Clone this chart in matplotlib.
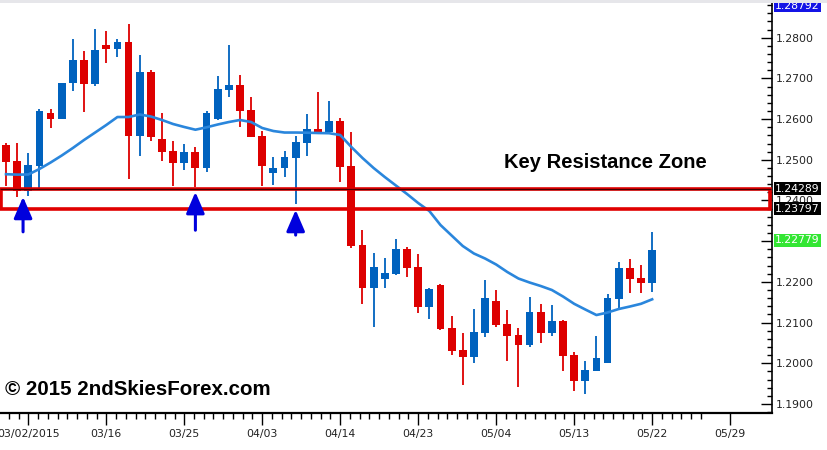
import matplotlib
matplotlib.use("Agg")
import matplotlib.pyplot as plt
from matplotlib.patches import Rectangle
from matplotlib.ticker import MultipleLocator, FixedLocator, FormatStrFormatter
import numpy as np

# daily candles
opens = [1.25363, 1.24970, 1.24241, 1.24855, 1.26142, 1.25995, 1.26879, 1.27452, 1.26855, 1.27820,
         1.27715, 1.27894, 1.25592, 1.27164, 1.25511, 1.25216, 1.24929, 1.25191, 1.24806, 1.26002,
         1.26715, 1.26838, 1.26223, 1.25585, 1.24683, 1.24791, 1.25051, 1.25420, 1.25757, 1.25690,
         1.25960, 1.24847, 1.22906, 1.21842, 1.22078, 1.22194, 1.22808, 1.22358, 1.21390, 1.21924,
         1.20860, 1.20327, 1.20162, 1.20752, 1.21530, 1.20965, 1.20695, 1.20449, 1.21268, 1.20752,
         1.21039, 1.20204, 1.19572, 1.19818, 1.20015, 1.21580, 1.22334, 1.22088, 1.21980]
highs = [1.25405, 1.25420, 1.25159, 1.26241, 1.26248, 1.26894, 1.27968, 1.27673, 1.28214, 1.28164,
         1.27968, 1.28336, 1.27575, 1.27206, 1.26142, 1.25462, 1.25388, 1.25322, 1.26206, 1.27059,
         1.27820, 1.27083, 1.26535, 1.25715, 1.25076, 1.25216, 1.25585, 1.26125, 1.26673, 1.26444,
         1.26019, 1.25690, 1.23275, 1.22702, 1.22594, 1.23054, 1.22865, 1.22685, 1.21857, 1.21941,
         1.21162, 1.20752, 1.21334, 1.22046, 1.21801, 1.21309, 1.20860, 1.21621, 1.21457, 1.21432,
         1.21064, 1.20277, 1.20056, 1.20671, 1.21702, 1.22481, 1.22555, 1.22415, 1.23218]
lows = [1.24356, 1.24093, 1.24110, 1.24275, 1.25774, 1.25995, 1.26690, 1.26182, 1.26813, 1.27371,
        1.27518, 1.24521, 1.25101, 1.25469, 1.24978, 1.24363, 1.24749, 1.24331, 1.24707, 1.25978,
        1.26550, 1.25798, 1.25560, 1.24363, 1.24381, 1.24570, 1.23914, 1.25101, 1.25690, 1.25690,
        1.24462, 1.22840, 1.21457, 1.20899, 1.21842, 1.22169, 1.22128, 1.21243, 1.21081, 1.20818,
        1.20204, 1.19467, 1.20000, 1.20653, 1.20899, 1.20064, 1.19425, 1.20393, 1.20491, 1.20671,
        1.19818, 1.19331, 1.19238, 1.19818, 1.20015, 1.21327, 1.21720, 1.21734, 1.21759]
closes = [1.24953, 1.24241, 1.24872, 1.26206, 1.25995, 1.26894, 1.27452, 1.26855, 1.27698, 1.27715,
          1.27894, 1.25592, 1.27164, 1.25553, 1.25199, 1.24929, 1.25191, 1.24806, 1.26142, 1.26739,
          1.26838, 1.26206, 1.25567, 1.24855, 1.24806, 1.25076, 1.25430, 1.25757, 1.25690, 1.25960,
          1.24830, 1.22889, 1.21842, 1.22358, 1.22211, 1.22808, 1.22349, 1.21390, 1.21825, 1.20843,
          1.20309, 1.20162, 1.20769, 1.21597, 1.20941, 1.20678, 1.20457, 1.21268, 1.20752, 1.21046,
          1.20179, 1.19572, 1.19835, 1.20137, 1.21597, 1.22334, 1.22071, 1.21980, 1.22779]
ma = [1.24646, 1.24636, 1.24639, 1.24774, 1.24933, 1.25105, 1.25290, 1.25486, 1.25670, 1.25855,
      1.26051, 1.26051, 1.26113, 1.26064, 1.25978, 1.25879, 1.25806, 1.25739, 1.25798, 1.25867,
      1.25928, 1.25978, 1.25928, 1.25781, 1.25707, 1.25670, 1.25670, 1.25666, 1.25658, 1.25653,
      1.25609, 1.25314, 1.25044, 1.24798, 1.24577, 1.24368, 1.24159, 1.23938, 1.23742, 1.23398,
      1.23140, 1.22882, 1.22698, 1.22575, 1.22427, 1.22243, 1.22083, 1.21985, 1.21899, 1.21801,
      1.21641, 1.21462, 1.21322, 1.21186, 1.21248, 1.21334, 1.21395, 1.21462, 1.21572]

date_ticks = [2, 9, 16, 23, 30, 37, 44, 51, 58, 65]
date_labels = ["03/02/2015", "03/16", "03/25", "04/03", "04/14",
               "04/23", "05/04", "05/13", "05/22", "05/29"]

zone_top, zone_bottom = 1.24289, 1.23797
# bar index, arrow tip, arrow tail
arrow_bars = [1.53, 17.0, 26.0]
arrow_tips = [1.2409, 1.2421, 1.2377]
arrow_tails = [1.2323, 1.2327, 1.2315]

# price boxes on the right scale (text, where it sits, colour)
box_texts = ["1.28792", "1.24289", "1.23797", "1.22779"]
box_levels = [1.28779, 1.24289, 1.23797, 1.23020]
box_colors = ["#1414E6", "#000000", "#000000", "#33E633"]

RED = "#DD0000"
BLUE = "#0062BE"
MA_COL = "#2A86DC"

fig = plt.figure(figsize=(8.28, 4.5), dpi=100)
fig.patch.set_facecolor("white")
ax = fig.add_axes([0, 37 / 450, 772 / 828, 411 / 450])
ax.set_xlim(-0.54, 68.76)
ax.set_ylim(1.18779, 1.28877)

# thin grey strip along the top edge
fig.patches.append(Rectangle((0, 1 - 3 / 450), 1, 3 / 450, transform=fig.transFigure,
                             facecolor="#E6E6EA", edgecolor="none"))

o, h, l, c = map(np.array, (opens, highs, lows, closes))
idx = np.arange(len(o))
cols = np.where(c >= o, BLUE, RED)
ax.vlines(idx, l, h, colors=cols, lw=1.3, zorder=2)
ax.bar(idx, np.abs(c - o), bottom=np.minimum(o, c), width=0.7, color=cols,
       linewidth=0, zorder=3)
ax.plot(idx, ma, color=MA_COL, lw=1.9, zorder=4, solid_joinstyle="round")

# resistance zone
ax.add_patch(Rectangle((-0.45, zone_bottom), 69.0, zone_top - zone_bottom,
                       fill=False, edgecolor="#E00000", lw=2.6, zorder=5))
ax.hlines(zone_top, -0.54, 68.7, color="#450000", lw=0.9, zorder=6)

for xb, tip, tail in zip(arrow_bars, arrow_tips, arrow_tails):
    ax.annotate("", xy=(xb, tip), xytext=(xb, tail),
                arrowprops=dict(arrowstyle="-|>,head_length=0.65,head_width=0.28",
                                mutation_scale=20, color="#0000DD", lw=2.2,
                                shrinkA=0, shrinkB=0), zorder=7)

ax.text(0.7837, 0.6107, "Key Resistance Zone", transform=ax.transAxes,
        ha="center", va="center", fontsize=14.5, fontweight="bold",
        family="Liberation Sans", color="black")
ax.text(0.0065, 0.056, "© 2015 2ndSkiesForex.com", transform=ax.transAxes,
        ha="left", va="center", fontsize=14.8, fontweight="bold",
        family="Liberation Sans", color="black")

# axes look
for s in ("top", "left"):
    ax.spines[s].set_visible(False)
ax.spines["bottom"].set_linewidth(1.6)
ax.spines["right"].set_linewidth(1.2)

ax.yaxis.tick_right()
ax.yaxis.set_major_locator(MultipleLocator(0.01))
ax.yaxis.set_minor_locator(MultipleLocator(0.002))
ax.yaxis.set_major_formatter(FormatStrFormatter("%.4f"))
ax.tick_params(axis="y", which="major", direction="in", length=8, width=1,
               labelsize=7.8, pad=3, labelcolor="#222222")
ax.tick_params(axis="y", which="minor", direction="in", length=3.5, width=1)

ax.xaxis.set_major_locator(FixedLocator(date_ticks))
ax.set_xticklabels(date_labels)
ax.xaxis.set_minor_locator(FixedLocator(np.arange(-5, 70) * 7 / 8 + 2))
ax.tick_params(axis="x", which="major", direction="out", length=8.5, width=1,
               labelsize=7.8, pad=3, labelcolor="#222222")
ax.tick_params(axis="x", which="minor", direction="out", length=4.5, width=1)

for txt, lvl, col in zip(box_texts, box_levels, box_colors):
    ax.text(1.0 + 3 / 772, lvl, txt, transform=ax.get_yaxis_transform(),
            ha="left", va="center", fontsize=7.8, color="white",
            bbox=dict(boxstyle="square,pad=0.12", facecolor=col, edgecolor="none"),
            clip_on=False, zorder=10)

fig.savefig("out.png", dpi=100, facecolor="white")
